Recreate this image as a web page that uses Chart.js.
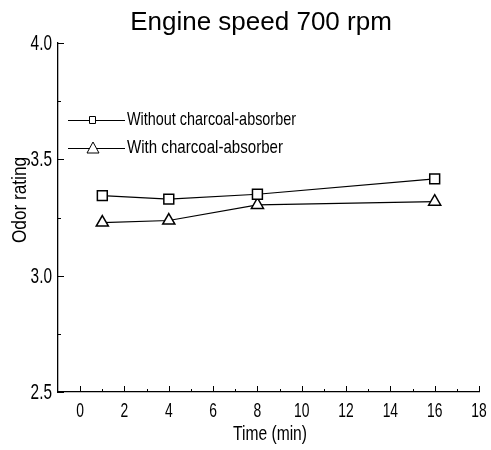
<!DOCTYPE html>
<html>
<head>
<meta charset="utf-8">
<script src="https://cdn.jsdelivr.net/npm/chart.js@4/dist/chart.umd.min.js"></script>
<style>
  body { margin: 0; background: #fff; }
  #wrap { width: 491px; height: 450px; }
</style>
</head>
<body>
<div id="wrap"><canvas id="odorChart"></canvas></div>
<script>
// data
const timeMin = [1, 4, 8, 16];
const withoutAbsorber = [3.344, 3.329, 3.35, 3.416];
const withAbsorber = [3.228, 3.237, 3.304, 3.318];
const seriesLabels = ['Without charcoal-absorber', 'With charcoal-absorber'];
const xTickLabels = [0, 2, 4, 6, 8, 10, 12, 14, 16, 18];
const yTickLabels = [2.5, 3.0, 3.5, 4.0];

const sans = "'Liberation Sans', Arial, sans-serif";

function toPoints(xs, ys) {
  return xs.map((x, i) => ({ x: x, y: ys[i] }));
}

// narrow text: squeeze horizontally around the anchor
function squeezedText(ctx, text, x, y, squeeze, align) {
  ctx.save();
  ctx.translate(x, y);
  ctx.scale(squeeze, 1);
  ctx.textAlign = align;
  ctx.fillText(text, 0, 0);
  ctx.restore();
}

// ticks on the inside of the axes, tick labels, titles and the legend
const decorations = {
  id: 'decorations',
  afterDraw(chart) {
    const ctx = chart.ctx;
    const xs = chart.scales.x;
    const ys = chart.scales.y;
    const area = chart.chartArea;
    ctx.save();
    ctx.strokeStyle = '#000';
    ctx.lineWidth = 1;
    ctx.beginPath();
    for (let v = 0; v <= 18; v++) {
      const px = Math.round(xs.getPixelForValue(v)) + 0.5;
      const len = v % 2 === 0 ? 6 : 3;
      ctx.moveTo(px, area.bottom);
      ctx.lineTo(px, area.bottom - len);
    }
    for (let v = 2.5; v <= 4.0001; v += 0.25) {
      const py = Math.round(ys.getPixelForValue(v)) + 0.5;
      const major = Math.abs(v * 2 - Math.round(v * 2)) < 1e-6;
      ctx.moveTo(area.left, py);
      ctx.lineTo(area.left + (major ? 6 : 3), py);
    }
    ctx.stroke();

    ctx.fillStyle = '#000';
    ctx.textBaseline = 'middle';
    ctx.font = '21px ' + sans;
    xTickLabels.forEach(v => {
      squeezedText(ctx, String(v), xs.getPixelForValue(v), area.bottom + 19, 0.66, 'center');
    });
    ctx.font = '22px ' + sans;
    yTickLabels.forEach(v => {
      squeezedText(ctx, v.toFixed(1), area.left - 6, ys.getPixelForValue(v) + 1, 0.7, 'right');
    });

    ctx.font = '26px ' + sans;
    ctx.textAlign = 'center';
    ctx.textBaseline = 'alphabetic';
    ctx.fillText('Engine speed 700 rpm', 261, 30);

    ctx.font = '21px ' + sans;
    ctx.textBaseline = 'middle';
    ctx.fillText('Time (min)', 270, 434, 74);
    ctx.save();
    ctx.translate(20, 200);
    ctx.rotate(-Math.PI / 2);
    ctx.fillText('Odor rating', 0, 0, 86);
    ctx.restore();

    // legend
    const rows = [120, 148];
    const widths = [169, 156];
    rows.forEach((ly, i) => {
      ctx.beginPath();
      ctx.moveTo(68, ly + 0.5);
      ctx.lineTo(125, ly + 0.5);
      ctx.stroke();
      ctx.fillStyle = '#fff';
      ctx.beginPath();
      if (i === 0) {
        ctx.rect(89.5, ly - 3.5, 6, 7);
      } else {
        ctx.moveTo(93, ly - 6);
        ctx.lineTo(99, ly + 5);
        ctx.lineTo(87, ly + 5);
        ctx.closePath();
      }
      ctx.fill();
      ctx.stroke();
      ctx.fillStyle = '#000';
      ctx.font = '19px ' + sans;
      ctx.textAlign = 'left';
      ctx.fillText(seriesLabels[i], 127, ly, widths[i]);
    });
    ctx.restore();
  }
};

const ctx = document.getElementById('odorChart').getContext('2d');

new Chart(ctx, {
  type: 'scatter',
  data: {
    datasets: [
      {
        label: seriesLabels[0],
        data: toPoints(timeMin, withoutAbsorber),
        showLine: true,
        borderColor: '#000',
        borderWidth: 1.2,
        pointStyle: 'rect',
        pointRadius: 7,
        pointBorderWidth: 1.5,
        pointBackgroundColor: '#fff',
        pointBorderColor: '#000'
      },
      {
        label: seriesLabels[1],
        data: toPoints(timeMin, withAbsorber),
        showLine: true,
        borderColor: '#000',
        borderWidth: 1.2,
        pointStyle: 'triangle',
        pointRadius: 7,
        pointBorderWidth: 1.5,
        pointBackgroundColor: '#fff',
        pointBorderColor: '#000'
      }
    ]
  },
  options: {
    responsive: true,
    maintainAspectRatio: false,
    animation: false,
    layout: { padding: { top: 43, right: 12, left: 0, bottom: 0 } },
    scales: {
      x: {
        type: 'linear',
        min: -1,
        max: 18,
        afterFit: (scale) => { scale.height = 58; },
        grid: { display: false, drawTicks: false },
        border: { display: true, color: '#000', width: 1.3 },
        ticks: { display: false, stepSize: 1 }
      },
      y: {
        min: 2.5,
        max: 4.0,
        afterFit: (scale) => { scale.width = 58; },
        grid: { display: false, drawTicks: false },
        border: { display: true, color: '#000', width: 1.3 },
        ticks: { display: false, stepSize: 0.25 }
      }
    },
    plugins: {
      legend: { display: false },
      title: { display: false },
      tooltip: { enabled: false }
    }
  },
  plugins: [decorations]
});
</script>
</body>
</html>
